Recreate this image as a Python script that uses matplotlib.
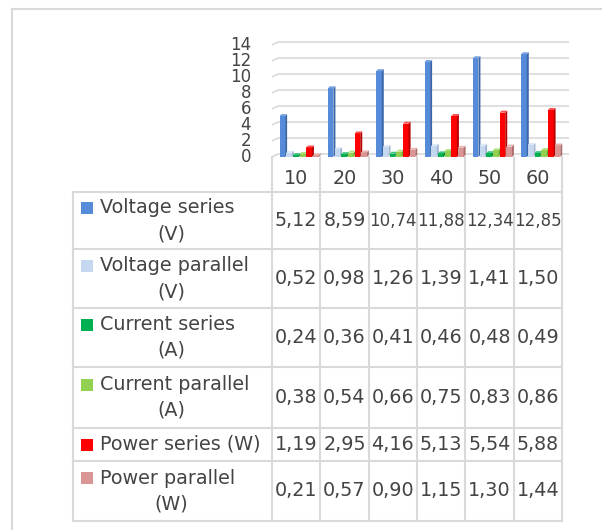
import matplotlib
matplotlib.use("Agg")
import matplotlib.pyplot as plt
from matplotlib.patches import Polygon, Rectangle

categories = ["10", "20", "30", "40", "50", "60"]
series_names = ["Voltage series\n(V)", "Voltage parallel\n(V)", "Current series\n(A)",
                "Current parallel\n(A)", "Power series (W)", "Power parallel\n(W)"]
voltage_series = [5.12, 8.59, 10.74, 11.88, 12.34, 12.85]
voltage_parallel = [0.52, 0.98, 1.26, 1.39, 1.41, 1.50]
current_series = [0.24, 0.36, 0.41, 0.46, 0.48, 0.49]
current_parallel = [0.38, 0.54, 0.66, 0.75, 0.83, 0.86]
power_series = [1.19, 2.95, 4.16, 5.13, 5.54, 5.88]
power_parallel = [0.21, 0.57, 0.90, 1.15, 1.30, 1.44]
y_ticks = [0, 2, 4, 6, 8, 10, 12, 14]

series = [voltage_series, voltage_parallel, current_series,
          current_parallel, power_series, power_parallel]
front_colors = ["#558BD8", "#C5D8F0", "#00B050", "#92D050", "#FF0000", "#D99694"]
side_colors = ["#3A66AA", "#9FB5D3", "#00883D", "#72A63C", "#B80000", "#AD6E6C"]
top_colors = ["#7AA3E0", "#DCE8F6", "#40C880", "#B0E080", "#FF5050", "#E8B4B2"]

TEXT = "#444444"
LINE = "#D9D9D9"
W, H = 602, 530

fig = plt.figure(figsize=(W / 100, H / 100), dpi=100)
fig.patch.set_facecolor("white")

# ---------- chart axes (pixel geometry) ----------
x_left, x_right = 272, 569
col_w = (562 - 272) / 6.0
y_zero, y_top = 157, 45
ax = fig.add_axes([x_left / W, 1 - y_zero / H, (x_right - x_left) / W, (y_zero - y_top) / H])
ax.set_xlim(0, (x_right - x_left) / col_w)
ax.set_ylim(0, 14)
ax.axis("off")

px_x = 1.0 / col_w              # data units per pixel (x)
px_y = 14.0 / (y_zero - y_top)  # data units per pixel (y)

# gridlines with small perspective slant
gdx, gdy = 6 * px_x, 3 * px_y
xmax = (x_right - x_left) / col_w
for v in y_ticks:
    ax.plot([0, gdx, xmax], [v, v + gdy, v + gdy], color=LINE, lw=1.2,
            clip_on=False, zorder=1, solid_capstyle="butt")
    ax.text(-21 * px_x, v, str(v), ha="right", va="center", fontsize=12,
            color=TEXT, clip_on=False)

# 3D-looking bars
slot = 6.7 * px_x
fw = 5.6 * px_x
ddx, ddy = 2.0 * px_x, 2.0 * px_y
start = 7.5 * px_x
for k, vals in enumerate(series):
    lefts = [i + start + k * slot for i in range(len(categories))]
    bars = ax.bar(lefts, vals, width=fw, align="edge", color=front_colors[k],
                  zorder=3 + 2 * k, linewidth=0)
    for b in bars:
        xl = b.get_x()
        xr = xl + b.get_width()
        h = b.get_height()
        ax.add_patch(Polygon([(xr, 0), (xr + ddx, ddy), (xr + ddx, h + ddy), (xr, h)],
                             closed=True, facecolor=side_colors[k], lw=0,
                             zorder=3 + 2 * k, clip_on=False))
        ax.add_patch(Polygon([(xl, h), (xl + ddx, h + ddy), (xr + ddx, h + ddy), (xr, h)],
                             closed=True, facecolor=top_colors[k], lw=0,
                             zorder=3 + 2 * k, clip_on=False))

# ---------- overlay in pixel coordinates for frame and table ----------
ov = fig.add_axes([0, 0, 1, 1], zorder=-1)
ov.set_xlim(0, W)
ov.set_ylim(H, 0)
ov.axis("off")

# outer frame (left & top visible)
ov.plot([12, 12], [H + 5, 9], color=LINE, lw=1.5)
ov.plot([12, W + 5], [9, 9], color=LINE, lw=1.5)

tab = fig.add_axes([0, 0, 1, 1], zorder=5)
tab.set_xlim(0, W)
tab.set_ylim(H, 0)
tab.axis("off")
tab.patch.set_alpha(0)

col_edges = [272 + col_w * i for i in range(7)]
row_edges = [192, 249, 308, 367, 428, 461, 521]
lbl_left = 73

# header vertical lines
for x in col_edges:
    tab.plot([x, x], [157, 192], color=LINE, lw=1.5)
for i, c in enumerate(categories):
    tab.text((col_edges[i] + col_edges[i + 1]) / 2, 178, c, ha="center", va="center",
             fontsize=13.8, color=TEXT)

# body grid
for y in row_edges:
    tab.plot([lbl_left, col_edges[-1]], [y, y], color=LINE, lw=1.5)
for x in [lbl_left] + col_edges:
    tab.plot([x, x], [row_edges[0], row_edges[-1]], color=LINE, lw=1.5)

for r, name in enumerate(series_names):
    y0, y1 = row_edges[r], row_edges[r + 1]
    ym = (y0 + y1) / 2
    lines = name.split("\n")
    if len(lines) == 2:
        yl1, yl2 = ym - 13, ym + 13
    else:
        yl1 = ym
    tab.add_patch(Rectangle((81, yl1 - 6), 12, 12, facecolor=front_colors[r], lw=0))
    tab.text(100, yl1, lines[0], ha="left", va="center", fontsize=13.8, color=TEXT)
    if len(lines) == 2:
        tab.text(171, yl2, lines[1], ha="center", va="center", fontsize=13.8, color=TEXT)
    for i, v in enumerate(series[r]):
        txt = f"{v:.2f}".replace(".", ",")
        fs = 13.8 if len(txt) <= 4 else 12.0
        tab.text((col_edges[i] + col_edges[i + 1]) / 2, ym, txt,
                 ha="center", va="center", fontsize=fs, color=TEXT)

fig.savefig("out.png", dpi=100, facecolor="white")
